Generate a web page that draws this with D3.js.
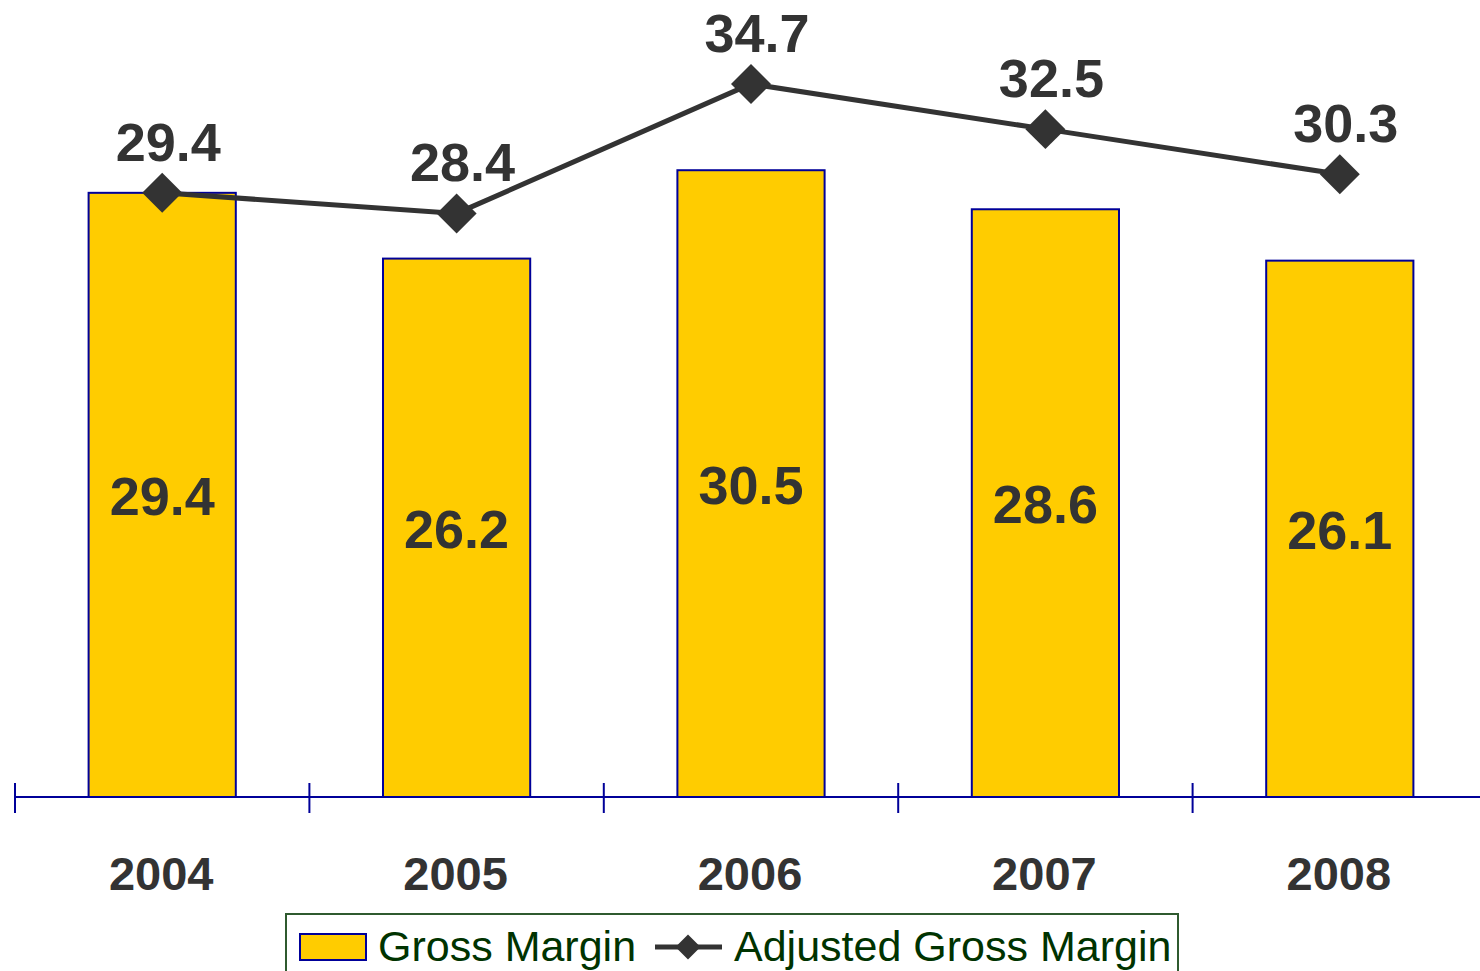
<!DOCTYPE html>
<html>
<head>
<meta charset="utf-8">
<script src="https://cdn.jsdelivr.net/npm/d3@7/dist/d3.min.js"></script>
<style>
  html, body { margin: 0; padding: 0; background: #ffffff; overflow: hidden; }
  svg { display: block; font-family: "Liberation Sans", Arial, sans-serif; }
</style>
</head>
<body>
<svg id="chart" width="1480" height="971"></svg>
<script>
// Fiscal years and margin series (%)
const years = ["2004", "2005", "2006", "2007", "2008"];
const grossMargin = [29.4, 26.2, 30.5, 28.6, 26.1];
const adjustedGrossMargin = [29.4, 28.4, 34.7, 32.5, 30.3];
const seriesNames = ["Gross Margin", "Adjusted Gross Margin"];

const svg = d3.select("#chart");

const x = d3.scaleBand()
  .domain(years)
  .range([15, 1487])
  .paddingInner(0.5)
  .paddingOuter(0.25);

const y = d3.scaleLinear()
  .domain([0, 38])
  .range([797, 797 - 38 * 20.55]);

const textColor = "#333333";
const barFill = "#FFCC00";
const barStroke = "#000099";

// Bars
svg.append("g")
  .selectAll("rect")
  .data(years)
  .join("rect")
  .attr("x", d => x(d))
  .attr("y", (d, i) => y(grossMargin[i]))
  .attr("width", x.bandwidth())
  .attr("height", (d, i) => y(0) - y(grossMargin[i]))
  .attr("fill", barFill)
  .attr("stroke", barStroke)
  .attr("stroke-width", 2);

// Value labels inside bars
svg.append("g")
  .selectAll("text")
  .data(years)
  .join("text")
  .attr("x", d => x(d) + x.bandwidth() / 2)
  .attr("y", (d, i) => (y(grossMargin[i]) + y(0)) / 2 + 20)
  .attr("text-anchor", "middle")
  .attr("font-size", 54)
  .attr("font-weight", "bold")
  .attr("fill", textColor)
  .text((d, i) => grossMargin[i].toFixed(1));

// Category axis: baseline and ticks at band boundaries
const step = x.step();
const boundaries = d3.range(years.length + 1).map(i => x.range()[0] + i * step);
const axis = svg.append("g");
axis.append("line")
  .attr("x1", boundaries[0]).attr("x2", 1480)
  .attr("y1", y(0)).attr("y2", y(0))
  .attr("stroke", barStroke).attr("stroke-width", 2);
axis.selectAll("line.tick")
  .data(boundaries)
  .join("line")
  .attr("class", "tick")
  .attr("x1", d => d).attr("x2", d => d)
  .attr("y1", y(0) - 14).attr("y2", y(0) + 16)
  .attr("stroke", barStroke).attr("stroke-width", 2);
axis.selectAll("text")
  .data(years)
  .join("text")
  .attr("x", d => x(d) + x.bandwidth() / 2 - 1)
  .attr("y", 890)
  .attr("text-anchor", "middle")
  .attr("font-size", 47)
  .attr("font-weight", "bold")
  .attr("fill", textColor)
  .text(d => d);

// Adjusted gross margin line
const line = d3.line()
  .x((d, i) => x(years[i]) + x.bandwidth() / 2)
  .y(d => y(d));

svg.append("path")
  .datum(adjustedGrossMargin)
  .attr("d", line)
  .attr("fill", "none")
  .attr("stroke", textColor)
  .attr("stroke-width", 5);

const diamond = d3.symbol().type(d3.symbolSquare).size(800);
svg.append("g")
  .selectAll("path")
  .data(adjustedGrossMargin)
  .join("path")
  .attr("d", diamond)
  .attr("transform", (d, i) => `translate(${x(years[i]) + x.bandwidth() / 2},${y(d)}) rotate(45)`)
  .attr("fill", textColor);

svg.append("g")
  .selectAll("text")
  .data(adjustedGrossMargin)
  .join("text")
  .attr("x", (d, i) => x(years[i]) + x.bandwidth() / 2 + 6)
  .attr("y", d => y(d) - 32)
  .attr("text-anchor", "middle")
  .attr("font-size", 54)
  .attr("font-weight", "bold")
  .attr("fill", textColor)
  .text(d => d.toFixed(1));

// Legend
const legend = svg.append("g");
const legendText = "#003300";
legend.append("rect")
  .attr("x", 286).attr("y", 914)
  .attr("width", 892).attr("height", 90)
  .attr("fill", "#ffffff")
  .attr("stroke", "#2f5a2f")
  .attr("stroke-width", 2);
legend.append("rect")
  .attr("x", 300).attr("y", 934)
  .attr("width", 66).attr("height", 26)
  .attr("fill", barFill)
  .attr("stroke", barStroke)
  .attr("stroke-width", 2);
legend.append("text")
  .attr("x", 378).attr("y", 961)
  .attr("font-size", 43)
  .attr("fill", legendText)
  .text(seriesNames[0]);
legend.append("line")
  .attr("x1", 655).attr("x2", 722)
  .attr("y1", 947).attr("y2", 947)
  .attr("stroke", textColor).attr("stroke-width", 5);
legend.append("path")
  .attr("d", d3.symbol().type(d3.symbolSquare).size(313))
  .attr("transform", "translate(688,947) rotate(45)")
  .attr("fill", textColor);
legend.append("text")
  .attr("x", 734).attr("y", 961)
  .attr("font-size", 43)
  .attr("fill", legendText)
  .text(seriesNames[1]);
</script>
</body>
</html>
